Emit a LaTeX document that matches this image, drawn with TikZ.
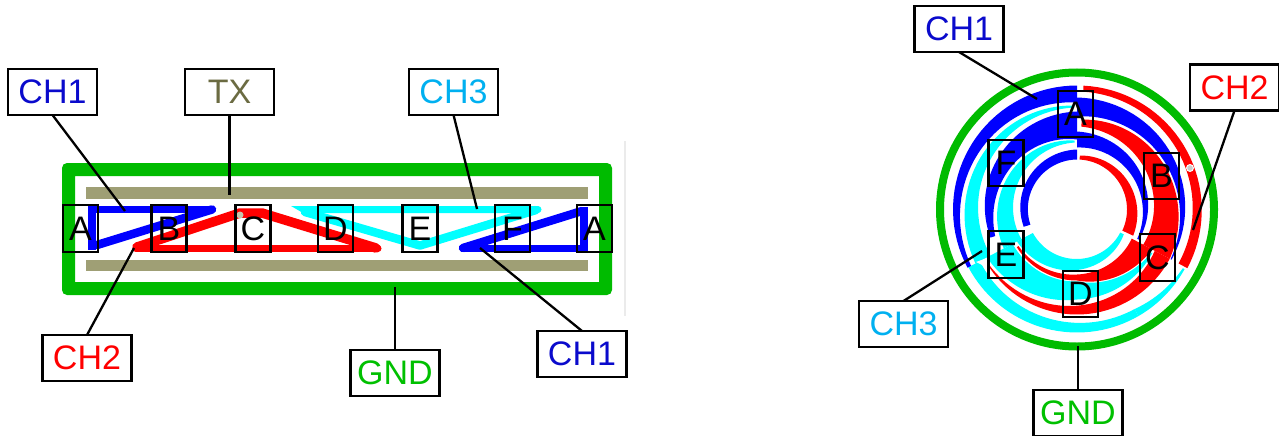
\documentclass[tikz,border=0pt]{standalone}
\usepackage{fontspec}
\setmainfont{Liberation Sans}
\definecolor{gnd}{HTML}{00BB00}
\definecolor{tan}{HTML}{9F9F75}
\definecolor{chblue}{HTML}{0000FF}
\definecolor{chred}{HTML}{FF0000}
\definecolor{chcyan}{HTML}{00FFFF}
\definecolor{txtblue}{HTML}{0A0ACC}
\definecolor{txtcyan}{HTML}{00B0F0}
\definecolor{txtolive}{HTML}{6B6B42}
\definecolor{txtgreen}{HTML}{00C000}
\newcommand\ringband[7]{%
 \fill[#1] plot[domain=#2:#3,samples=36,variable=\t]
   ({1077+((#4)+((#5)-(#4))*(\t-(#2))/((#3)-(#2)))*cos(\t)},{209.5-((#4)+((#5)-(#4))*(\t-(#2))/((#3)-(#2)))*sin(\t)})
  -- plot[domain=#3:#2,samples=36,variable=\t]
   ({1077+((#6)+((#7)-(#6))*(\t-(#2))/((#3)-(#2)))*cos(\t)},{209.5-((#6)+((#7)-(#6))*(\t-(#2))/((#3)-(#2)))*sin(\t)})
  -- cycle;}
\tikzset{
 chanbox/.style={draw=black,line width=2.3pt,fill=white,minimum width=89pt,minimum height=46pt,inner sep=0pt,outer sep=0pt,font=\fontsize{34}{34}\selectfont},
 letterbox/.style={draw=black,line width=2.3pt,minimum width=35pt,minimum height=46.5pt,inner sep=0pt,outer sep=0pt,text=black,font=\fontsize{34}{34}\selectfont},
 lead/.style={draw=black,line width=2.3pt},
 trace/.style={line width=7pt,line join=round,line cap=round},
 slant/.style={line width=9.5pt,line join=round,line cap=round}
}
\begin{document}
\begin{tikzpicture}[x=1pt,y=-1pt]
\useasboundingbox (0,0) rectangle (1279,436);
% left cross-section
\draw[line width=2pt,black!8] (625,141) -- (625,316);
\fill[gnd,even odd rule,rounded corners=5pt] (62,163) rectangle (612,295) [sharp corners] (75,176) rectangle (599,282);
\fill[tan] (86,187) rectangle (588,199);
\fill[tan] (86,260) rectangle (588,271);
% cyan
\fill[chcyan] (291,206) -- (538,206) arc (-90:90:3.5) -- (303,213) -- cycle;
\draw[slant,line width=8.5pt,chcyan] (305,212) -- (420,245.5) -- (536,210);
% red
\draw[trace,chred] (136,248.5) -- (378,248.5);
\draw[slant,chred] (137,247) -- (240,213) -- (262,213) -- (376,248);
% blue left
\draw[trace,chblue] (212,209.5) -- (92,209.5);
\draw[slant,line width=8.5pt,chblue] (212,209.5) -- (97,245);
\fill[chblue] (88,206) rectangle (96,250);
% blue right
\draw[trace,chblue] (463,248.5) -- (584,248.5);
\draw[slant,line width=8.5pt,chblue] (463,248) -- (582,211);
\fill[chblue] (580,207) rectangle (588,252);
\fill[tan!60!white] (240,215) circle (3.5pt);
% right cross-section
\draw[gnd,line width=8pt] (1077,209.5) circle (137pt);
\ringband{chcyan}{92}{208}{104}{115}{102}{98}
\ringband{chcyan}{92}{208}{69}{83}{67}{63}
\ringband{chcyan}{208}{300}{123}{123}{110}{115}
\ringband{chcyan}{300}{331}{123}{123}{115}{121}
\ringband{chcyan}{208}{270}{102}{90}{73}{72}
\ringband{chcyan}{270}{330}{90}{87}{72}{86}
\ringband{chcyan}{208}{332}{68}{53}{50}{49}
\ringband{chblue}{90}{208}{124}{124}{107}{120}
\ringband{chblue}{90}{198}{98}{91}{70}{86}
\ringband{chblue}{90}{198}{60}{56}{50}{49}
\ringband{chblue}{90}{-28}{112}{107}{93}{106}
\ringband{chblue}{90}{-26}{78}{69}{62}{67}
\ringband{chred}{87}{-28}{124}{125}{118}{115}
\ringband{chred}{87}{-28}{90}{105}{83}{75}
\ringband{chred}{87}{-25}{54}{62}{50}{50}
\ringband{chred}{-28}{-149}{105}{105}{88}{104}
\ringband{chred}{-28}{-90}{85}{71}{62}{65}
\ringband{chred}{-90}{-148}{71}{71}{65}{69}
\fill[white] (976,262) -- (987,258) -- (986,267) -- cycle;
\fill[white] (1190,168) circle (4pt);
\fill[black!20] (1190,168) circle (2.8pt);
% letter boxes left
\node[letterbox] (la1) at (80.5,228.5) {A};
\node[letterbox] (lb) at (169,228.5) {B};
\node[letterbox] (lc) at (253,228.5) {C};
\node[letterbox] (ld) at (335.5,228.5) {D};
\node[letterbox] (le) at (420,228.5) {E};
\node[letterbox] (lf) at (512.5,228.5) {F};
\node[letterbox] (la2) at (594.5,228.5) {A};
% letter boxes right
\node[letterbox] (ra) at (1075.5,114) {A};
\node[letterbox] (rf) at (1006,163) {F};
\node[letterbox] (rb) at (1161.5,176) {B};
\node[letterbox] (rc) at (1157.5,257.5) {C};
\node[letterbox] (rd) at (1080.5,294) {D};
\node[letterbox] (re) at (1006,254.5) {E};
% channel boxes
\node[chanbox,text=txtblue] (ch1a) at (52.5,92) {CH1};
\node[chanbox,text=txtolive] (tx) at (229.5,92) {TX};
\node[chanbox,text=txtcyan] (ch3a) at (453.5,92) {CH3};
\node[chanbox,text=chred] (ch2a) at (87,358) {CH2};
\node[chanbox,text=txtgreen] (gnda) at (395,373) {GND};
\node[chanbox,text=txtblue] (ch1b) at (582,354) {CH1};
\node[chanbox,text=txtblue] (ch1c) at (959,29) {CH1};
\node[chanbox,text=chred] (ch2b) at (1234.5,87.5) {CH2};
\node[chanbox,text=txtcyan] (ch3b) at (903.5,324) {CH3};
\node[chanbox,text=txtgreen] (gndb) at (1078,413) {GND};
% free ends
\coordinate (e1) at (125,211);
\coordinate (e2) at (229.5,195);
\coordinate (e3) at (477,209);
\coordinate (e4) at (134,248);
\coordinate (e5) at (395,287);
\coordinate (e6) at (480,248);
\coordinate (e7) at (1037,99);
\coordinate (e8) at (1193,230);
\coordinate (e9) at (982,251);
\coordinate (e10) at (1078,346);
\draw[lead] (ch1a.south) -- (e1);
\draw[lead] (tx.south) -- (e2);
\draw[lead] (ch3a.south) -- (e3);
\draw[lead] (ch2a.north) -- (e4);
\draw[lead] (gnda.north) -- (e5);
\draw[lead] (ch1b.north) -- (e6);
\draw[lead] (ch1c.south) -- (e7);
\draw[lead] (ch2b.south) -- (e8);
\draw[lead] (ch3b.north) -- (e9);
\draw[lead] (gndb.north) -- (e10);
\end{tikzpicture}
\end{document}
